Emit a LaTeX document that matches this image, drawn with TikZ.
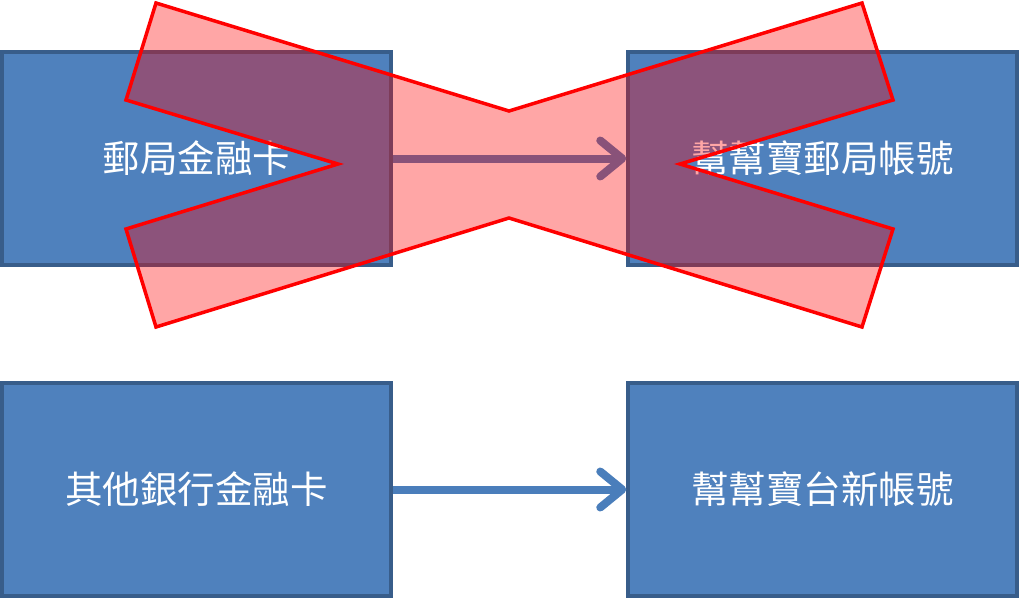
\documentclass[tikz,border=0pt]{standalone}
\usepackage{fontspec}
\newfontfamily\cjk{Noto Sans CJK TC}
\usetikzlibrary{arrows.meta,positioning}
\definecolor{boxfill}{HTML}{4F81BD}
\definecolor{boxline}{HTML}{385D8A}
\definecolor{flow}{HTML}{4A7EBB}
\definecolor{cross}{HTML}{FF0000}
\tikzset{acct/.style={rectangle,draw=boxline,fill=boxfill,line width=3.5pt,
    minimum width=389pt,minimum height=213pt,inner sep=0pt,text=white,
    font=\cjk\fontsize{37.5}{40}\selectfont},
  flowarrow/.style={draw=flow,line width=8pt,
    -{Straight Barb[length=22pt,width=36pt,round]}},
  nope/.style={draw=cross,line width=3.5pt,fill=cross,fill opacity=.35,line join=miter}}
\begin{document}
\begin{tikzpicture}[x=1pt,y=-1pt]
\useasboundingbox (0,0) rectangle (1019,598);
\node[acct] (post) at (196.5,158.5) {郵局金融卡};
\node[acct] (bbpost) at (822.5,158.5) {幫幫寶郵局帳號};
\node[acct] (other) at (196.5,489.5) {其他銀行金融卡};
\node[acct] (bbtx) at (822.5,489.5) {幫幫寶台新帳號};
\draw[flowarrow] (post.east) -- (bbpost.west);
\draw[flowarrow] (other.east) -- (bbtx.west);
% big cross over the top row
\draw[nope] (156,3) -- (509,111) -- (862,3) -- (893,100) -- (680,164)
  -- (893,229) -- (862,327) -- (509,218) -- (156,327) -- (126,229)
  -- (338,164) -- (126,100) -- cycle;
\end{tikzpicture}
\end{document}
